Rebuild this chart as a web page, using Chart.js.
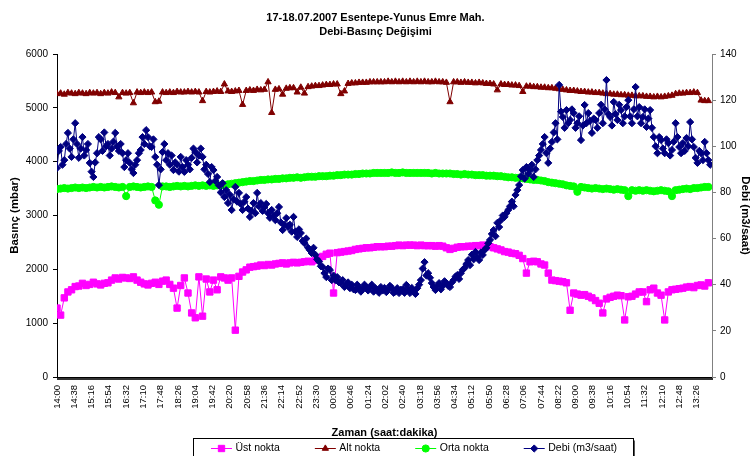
<!DOCTYPE html>
<html><head><meta charset="utf-8">
<script src="https://cdn.jsdelivr.net/npm/chart.js@4.4.1/dist/chart.umd.min.js"></script>
<style>html,body{margin:0;padding:0;background:#fff;overflow:hidden}canvas{display:block}</style>
</head><body>
<canvas id="c" width="751" height="456"></canvas>
<script>
const titleLines = ["17-18.07.2007 Esentepe-Yunus Emre Mah.", "Debi-Basınç Değişimi"];
const tickLabels = ["14:00","14:38","15:16","15:54","16:32","17:10","17:48","18:26","19:04","19:42",
  "20:20","20:58","21:36","22:14","22:52","23:30","00:08","00:46","01:24","02:02",
  "02:40","03:18","03:56","04:34","05:12","05:50","06:28","07:06","07:44","08:22",
  "09:00","09:38","10:16","10:54","11:32","12:10","12:48","13:26"];
const TICK_STEP_MIN = 38;
const PRESSURE_STEP_MIN = 8;
const FLOW_STEP_MIN = 4;
const seriesNames = ["Üst nokta", "Alt nokta", "Orta nokta", "Debi (m3/saat)"];

const ust = [
1280,1150,1470,1580,1620,1680,1690,1740,1700,1720,
1760,1730,1710,1740,1750,1800,1840,1820,1850,1840,
1830,1860,1800,1760,1730,1710,1740,1760,1720,1780,
1800,1720,1650,1280,1700,1840,1560,1190,1100,1860,
1130,1820,1580,1800,1620,1860,1840,1800,1840,870,
1870,1950,1990,2040,2050,2060,2080,2070,2090,2080,
2100,2110,2120,2100,2120,2130,2120,2130,2140,2150,
2140,2170,2210,2240,2280,2300,1560,2310,2320,2330,
2340,2350,2370,2380,2390,2400,2400,2410,2420,2420,
2420,2430,2430,2440,2450,2440,2450,2450,2450,2440,
2450,2440,2440,2440,2430,2440,2430,2400,2370,2390,
2410,2420,2420,2430,2430,2440,2440,2450,2440,2420,
2400,2380,2360,2330,2320,2300,2290,2260,2200,1930,
2140,2150,2140,2100,2080,1930,1800,1790,1780,1770,
1750,1240,1560,1540,1520,1530,1500,1470,1420,1370,
1190,1450,1480,1500,1520,1510,1060,1490,1500,1540,
1580,1580,1400,1620,1650,1560,1520,1060,1580,1620,
1630,1640,1650,1670,1680,1660,1700,1710,1690,1750];

const alt = [
5260,5270,5250,5280,5270,5260,5280,5270,5260,5280,
5270,5280,5260,5280,5270,5290,5280,5200,5280,5270,
5280,5090,5290,5280,5290,5280,5290,5110,5120,5290,
5280,5290,5280,5300,5290,5290,5300,5290,5300,5290,
5130,5300,5290,5300,5310,5300,5440,5310,5300,5310,
5320,5060,5320,5330,5320,5340,5330,5340,5480,4910,
5340,5350,5250,5360,5370,5370,5290,5380,5270,5390,
5400,5410,5410,5420,5430,5430,5440,5440,5260,5310,
5450,5460,5460,5470,5470,5470,5480,5480,5480,5480,
5480,5490,5480,5490,5480,5490,5480,5490,5480,5490,
5480,5490,5480,5480,5490,5480,5480,5470,5110,5480,
5480,5470,5480,5470,5470,5460,5470,5460,5450,5450,
5440,5330,5440,5430,5430,5420,5420,5410,5300,5400,
5400,5390,5390,5380,5380,5370,5370,5360,5350,5340,
5330,5320,5320,5310,5300,5300,5290,5290,5280,5280,
5270,5260,5260,5250,5250,5240,5240,5230,5230,5220,
5220,5220,5210,5210,5200,5210,5200,5210,5220,5230,
5260,5270,5270,5280,5280,5290,5280,5140,5130,5130];

const orta = [
3490,3500,3510,3500,3510,3520,3510,3520,3510,3520,
3530,3520,3530,3520,3530,3540,3530,3520,3530,3360,
3530,3540,3530,3520,3530,3540,3530,3280,3200,3540,
3540,3530,3540,3550,3540,3550,3540,3550,3560,3550,
3560,3550,3560,3550,3560,3560,3570,3580,3590,3600,
3610,3620,3630,3640,3640,3650,3660,3660,3670,3670,
3680,3680,3690,3690,3700,3700,3710,3700,3710,3720,
3720,3720,3730,3730,3730,3740,3740,3750,3750,3760,
3760,3760,3770,3770,3780,3780,3780,3790,3790,3790,
3790,3790,3800,3790,3790,3800,3790,3790,3790,3790,
3790,3790,3790,3780,3790,3780,3780,3780,3780,3770,
3770,3760,3770,3760,3760,3750,3750,3750,3740,3740,
3740,3730,3730,3720,3710,3710,3700,3700,3690,3680,
3670,3660,3660,3650,3640,3620,3610,3600,3590,3580,
3560,3550,3540,3440,3530,3520,3510,3500,3510,3500,
3490,3500,3490,3480,3490,3480,3470,3360,3470,3460,
3470,3460,3470,3460,3450,3460,3470,3460,3450,3360,
3470,3480,3490,3500,3490,3510,3510,3520,3530,3530];

const debi = [
90.6,98,99.7,92,94,101,105.8,99,95.4,103,110,101,95,99,104,96,98.4,101,92.8,89,
86.7,93,97,104,103,98,106,100,101,96,99,102,105.8,100,98,101,97,91,94,97,
92.8,90,88.4,92,94,97,98.4,104,101,107,104,100,99.7,103,95.4,92,83.2,90,97.5,101,
94,97,92,96,89.7,93,92,89,95.4,91,88.9,94,92,90,95,99,97.5,93,96,99,
95.4,90,92,88,84.5,91,89.7,85,86.7,83,80,84,78,81,75.4,79,72.4,77,82.4,76,
79.8,75,72.4,76,78,73,69.4,72,75.4,71,79.8,74,75.4,72,73.7,75,71,69,72.4,70,
68,71,73.7,67,63.7,66,68.9,65,66,63,69.4,63,60.7,64,62.4,59,58,60,56,55,
53.7,56,53,51,50,48,47.7,45,43.3,47,46.4,42,44,42,43.3,41,40.7,42,39,40,
41,38.5,40,38,37.7,40,39,37,38,40,39,37.5,38.6,40,37,38.5,37.7,36.5,39,37.5,
38.6,36.8,37.7,39.5,38.6,36.5,37,38.5,36.4,37.8,38,36.5,39.9,37.8,36.4,38.6,37.2,36,38.5,40,
42,47,49.8,44,45,43,40.7,39,37.7,39.5,40.7,38,39.5,41.5,40.7,39.5,39,41,42,43.5,
44.2,42.5,45,46.5,47.2,49,50.7,48.5,53,51,54.2,52,50.7,54,52.9,55,56,58,59.4,62,
63.7,61,66.8,65,68,70,69.4,71,72.4,74,76,74,78.9,81,83.2,87,89.7,86,91,88,
89.7,92,86.7,90,94,96,98.4,101,104,97,92.8,99,101.9,106,110,103,126.6,115,112.7,108,
115.7,110,111.4,116,114.4,108,110,113,102.7,109,117.9,110,114.4,111,105.8,112,111.4,108,114.4,118,
110,116,128.7,114,112.7,109,119.2,114,111.4,118,115.7,110,113,117,120,113,110,116,125.7,113,
117,110,112.7,116,108.4,112,115.7,108,104,100,97,104,102.7,99,97,103,101.4,96,98.4,102,
110,104,99.7,97,101.4,98,103.6,100,110.5,103,99.7,95,92.8,98,97,94,101.9,97,94,92];

const seriesData = [ust, alt, orta, debi];
const seriesSteps = [PRESSURE_STEP_MIN, PRESSURE_STEP_MIN, PRESSURE_STEP_MIN, FLOW_STEP_MIN];
const toPts = (arr, step) => arr.map((v, i) => ({x: i * step, y: v}));

const FONT = 'Arial, "Liberation Sans", sans-serif';
Chart.defaults.font.family = FONT;
Chart.defaults.color = '#000';

const styles = [
  {color:'#FF00FF', pointStyle:'rect', radius:4.5},
  {color:'#800000', pointStyle:'triangle', radius:3.6},
  {color:'#00FF00', pointStyle:'circle', radius:3.6},
  {color:'#000080', pointStyle:'rectRot', radius:3.6}
];
const axisIds = ['y', 'y', 'y', 'y1'];
const orders = [4, 3, 2, 1];

const datasets = seriesData.map((arr, k) => ({
  label: seriesNames[k],
  data: toPts(arr, seriesSteps[k]),
  yAxisID: axisIds[k],
  order: orders[k],
  borderColor: styles[k].color,
  backgroundColor: styles[k].color,
  pointBackgroundColor: styles[k].color,
  pointBorderColor: styles[k].color,
  pointStyle: styles[k].pointStyle,
  pointRadius: styles[k].radius,
  pointBorderWidth: 1,
  borderWidth: 1,
  tension: 0,
  fill: false
}));

const excelLegend = {
  id: 'excelLegend',
  afterDraw(chart) {
    const ctx = chart.ctx;
    ctx.save();
    const boxL = 193.5, boxT = 438.5, boxR = 633.5, boxB = 470;
    ctx.fillStyle = '#fff';
    ctx.fillRect(boxL, boxT, boxR - boxL, boxB - boxT);
    ctx.strokeStyle = '#000';
    ctx.lineWidth = 1;
    ctx.strokeRect(boxL, boxT, boxR - boxL, boxB - boxT);
    ctx.strokeStyle = '#555';
    ctx.beginPath(); ctx.moveTo(boxR + 1, boxT + 2); ctx.lineTo(boxR + 1, boxB); ctx.stroke();
    ctx.font = '10.5px ' + FONT;
    ctx.textBaseline = 'middle';
    ctx.textAlign = 'left';
    const cy = 448.5;
    let x = 211;
    chart.data.datasets.forEach((ds) => {
      ctx.strokeStyle = ds.borderColor;
      ctx.lineWidth = 1;
      ctx.beginPath(); ctx.moveTo(x, cy); ctx.lineTo(x + 21, cy); ctx.stroke();
      ctx.fillStyle = ds.backgroundColor;
      Chart.helpers.drawPoint(ctx, {pointStyle: ds.pointStyle, radius: ds.pointRadius, rotation: 0, borderWidth: 1}, x + 10.5, cy);
      ctx.fillStyle = '#000';
      ctx.fillText(ds.label, x + 24.5, cy);
      x += 24.5 + ctx.measureText(ds.label).width + 35;
    });
    ctx.restore();
  }
};

new Chart(document.getElementById('c'), {
  type: 'line',
  data: { datasets },
  plugins: [excelLegend],
  options: {
    responsive: false,
    animation: false,
    events: [],
    layout: { padding: { left: 0, right: 0, top: 0, bottom: 14 } },
    plugins: {
      legend: { display: false },
      tooltip: { enabled: false },
      title: {
        display: true,
        text: titleLines,
        color: '#000',
        font: { size: 11, weight: 'bold', lineHeight: 1.3 },
        padding: { top: 11, bottom: 14.4 }
      }
    },
    scales: {
      x: {
        type: 'linear',
        min: 0,
        max: 1440,
        afterBuildTicks: s => {
          const t = [];
          for (let m = 0; m <= 1440; m += 2) t.push({ value: m });
          s.ticks = t;
        },
        afterFit: s => { s.height = 65; },
        ticks: {
          autoSkip: false,
          minRotation: 90,
          maxRotation: 90,
          padding: 5,
          color: '#000',
          font: { size: 9.5 },
          callback: v => (v % TICK_STEP_MIN === 0 ? tickLabels[v / TICK_STEP_MIN] : '')
        },
        grid: { drawOnChartArea: false, drawTicks: true, tickLength: 3, color: '#333', lineWidth: 1 },
        border: { color: '#000', width: 1 },
        title: {
          display: true, text: 'Zaman (saat:dakika)', color: '#000',
          font: { size: 11, weight: 'bold', lineHeight: 1.2 }, padding: { top: 0, bottom: 2 }
        }
      },
      y: {
        position: 'left',
        min: 0, max: 6000,
        afterFit: s => { s.width = 57; },
        ticks: { stepSize: 1000, color: '#000', font: { size: 10 }, padding: 5, callback: v => String(v) },
        grid: { drawOnChartArea: false, tickLength: 4, color: '#000' },
        border: { color: '#000', width: 1 },
        title: {
          display: true, text: 'Basınç (mbar)', color: '#000',
          font: { size: 11.5, weight: 'bold', lineHeight: 1 }, padding: { top: 9, bottom: 0 }
        }
      },
      y1: {
        position: 'right',
        min: 0, max: 140,
        afterFit: s => { s.width = 39; },
        ticks: { stepSize: 20, color: '#000', font: { size: 10 }, padding: 4, callback: v => String(v) },
        grid: { drawOnChartArea: false, tickLength: 4, color: '#808080' },
        border: { color: '#808080', width: 1 },
        title: {
          display: true, text: 'Debi (m3/saat)', color: '#000',
          font: { size: 11.5, weight: 'bold', lineHeight: 1 }, padding: { top: 0, bottom: 0 }
        }
      }
    }
  }
});
</script>
</body></html>
